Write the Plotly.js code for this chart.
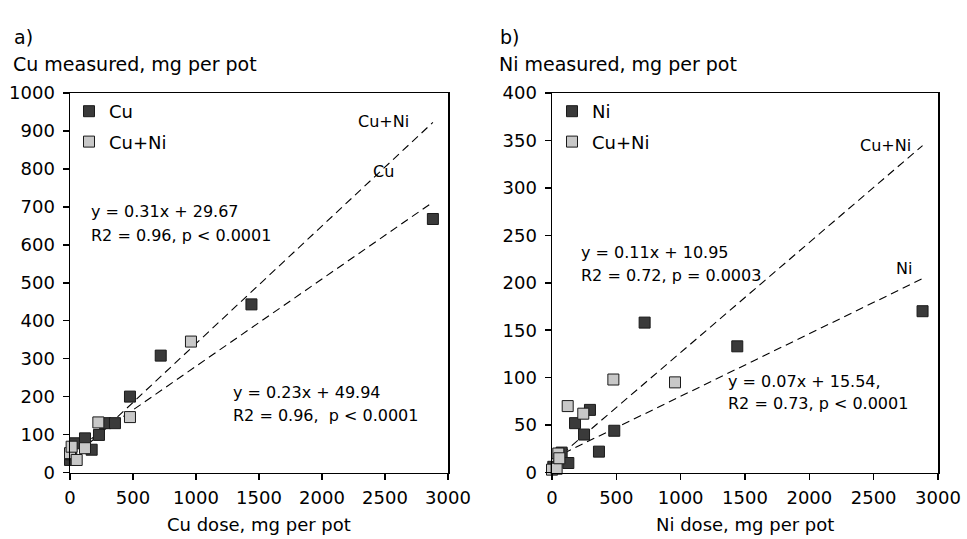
<!DOCTYPE html>
<html>
<head>
<meta charset="utf-8">
<script src="https://cdn.plot.ly/plotly-3.0.1.min.js"></script>
<style>html,body{margin:0;padding:0;background:#fff}#chart{width:967px;height:539px}</style>
</head>
<body>
<div id="chart"></div>
<script>
// Panel a) Cu
const cuDoseCu = [0, 10, 40, 119, 172, 230, 278, 357, 476, 720, 1440, 2880];
const cuMeasCu = [33, 48, 77, 90, 60, 99, 130, 130, 200, 308, 443, 668];
const cuDoseCuNi = [0, 13, 53, 119, 225, 476, 960];
const cuMeasCuNi = [51, 68, 33, 64, 132, 146, 345];
// fitted lines drawn in panel a): [slope, intercept], x-span
const cuFitCuNi = [0.31, 29.67];
const cuFitCu = [0.23, 49.94];
const cuFitSpan = [0, 2880];

// Panel b) Ni
const niDoseNi = [10, 75, 127, 179, 249, 295, 365, 484, 720, 1440, 2880];
const niMeasNi = [6, 21, 10, 52, 40, 66, 22, 44, 158, 133, 170];
const niDoseCuNi = [0, 36, 49, 57, 122, 243, 477, 956];
const niMeasCuNi = [3, 4, 20, 15, 70, 62, 98, 95];
const niFitCuNi = [0.116, 10.5];
const niFitNi = [0.066, 14.3];
const niFitSpan = [0, 2880];

const xTicks = [0, 500, 1000, 1500, 2000, 2500, 3000];

const FONT = '"DejaVu Sans", sans-serif';
const dark = '#3a3a3a', light = '#c8c8c8';

function lineY(fit, xs) { return xs.map(x => fit[0] * x + fit[1]); }

function mk(x, y, color, name, xa, ya, leg, grp) {
  return {x: x, y: y, type: 'scatter', mode: 'markers', name: name,
    xaxis: xa, yaxis: ya, legend: leg, legendgroup: grp, cliponaxis: false,
    marker: {symbol: 'square', size: 11, color: color, line: {color: '#1a1a1a', width: 1}}};
}
function ln(fit, span, xa, ya) {
  return {x: span, y: lineY(fit, span), type: 'scatter', mode: 'lines', showlegend: false,
    xaxis: xa, yaxis: ya, hoverinfo: 'skip',
    line: {color: '#000', width: 1.1, dash: '8px,5px'}};
}

const data = [
  ln(cuFitCuNi, cuFitSpan, 'x', 'y'),
  ln(cuFitCu, cuFitSpan, 'x', 'y'),
  ln(niFitCuNi, niFitSpan, 'x2', 'y2'),
  ln(niFitNi, niFitSpan, 'x2', 'y2'),
  mk(cuDoseCu, cuMeasCu, dark, 'Cu', 'x', 'y', 'legend', 'a1'),
  mk(cuDoseCuNi, cuMeasCuNi, light, 'Cu+Ni', 'x', 'y', 'legend', 'a2'),
  mk(niDoseNi, niMeasNi, dark, 'Ni', 'x2', 'y2', 'legend2', 'b1'),
  mk(niDoseCuNi, niMeasCuNi, light, 'Cu+Ni', 'x2', 'y2', 'legend2', 'b2')
];

const W = 967, H = 539;
const px = v => v / W, py = v => (H - v) / H;
const TICK = 18;

function xax(dom) {
  return {domain: dom, range: [0, 3000], tickvals: xTicks, ticktext: xTicks.map(String),
    showgrid: false, zeroline: false, showline: true, mirror: true, linecolor: '#000', linewidth: 1.5,
    ticks: 'outside', ticklen: 6, tickwidth: 1.5, tickcolor: '#000', ticklabelstandoff: 2,
    tickfont: {family: FONT, size: TICK, color: '#000'}, fixedrange: true};
}
function yax(range, dtick, anchor) {
  return {domain: [py(472.5), py(93)], range: range, dtick: dtick, anchor: anchor,
    showgrid: false, zeroline: false, showline: true, mirror: true, linecolor: '#000', linewidth: 1.5,
    ticks: 'outside', ticklen: 6, tickwidth: 1.5, tickcolor: '#000', ticklabelstandoff: 4,
    tickfont: {family: FONT, size: TICK, color: '#000'}, fixedrange: true};
}

function ann(text, x, y, size, xanchor) {
  return {text: text, xref: 'paper', yref: 'paper', x: px(x), y: py(y), xanchor: xanchor || 'left',
    yanchor: 'middle', showarrow: false, font: {family: FONT, size: size, color: '#000'}};
}

const LEG = {xanchor: 'left', yanchor: 'top', bgcolor: 'rgba(0,0,0,0)',
  font: {family: FONT, size: 18, color: '#000'}, traceorder: 'grouped', tracegroupgap: 4};

const layout = {
  width: W, height: H, margin: {l: 0, r: 0, t: 0, b: 0},
  paper_bgcolor: '#fff', plot_bgcolor: '#fff', showlegend: true,
  font: {family: FONT, color: '#000'},
  xaxis: Object.assign(xax([px(70), px(448)]), {anchor: 'y'}),
  yaxis: yax([0, 1000], 100, 'x'),
  xaxis2: Object.assign(xax([px(552), px(938)]), {anchor: 'y2'}),
  yaxis2: yax([0, 400], 50, 'x2'),
  legend: Object.assign({x: px(69), y: py(93)}, LEG),
  legend2: Object.assign({x: px(552), y: py(93)}, LEG),
  annotations: [
    ann('a)', 12, 37, 19),
    ann('b)', 498, 37, 19),
    ann('Cu measured, mg per pot', 11, 64, 19),
    ann('Ni measured, mg per pot', 497, 64, 19),
    ann('Cu dose, mg per pot', 259, 524, 18, 'center'),
    ann('Ni dose, mg per pot', 745, 524, 18, 'center'),
    ann('Cu+Ni', 411, 121, 16, 'right'),
    ann('Cu', 396, 171, 16, 'right'),
    ann('y = 0.31x + 29.67', 89, 212, 16),
    ann('R2 = 0.96, p < 0.0001', 89, 235, 16),
    ann('y = 0.23x + 49.94', 231, 392, 16),
    ann('R2 = 0.96,  p < 0.0001', 231, 415, 16),
    ann('Cu+Ni', 913, 145, 16, 'right'),
    ann('Ni', 914, 268, 16, 'right'),
    ann('y = 0.11x + 10.95', 579, 253, 16),
    ann('R2 = 0.72, p = 0.0003', 579, 275, 16),
    ann('y = 0.07x + 15.54,', 726, 381, 16),
    ann('R2 = 0.73, p < 0.0001', 726, 403, 16)
  ]
};

Plotly.newPlot('chart', data, layout, {staticPlot: true, displayModeBar: false});
</script>
</body>
</html>
